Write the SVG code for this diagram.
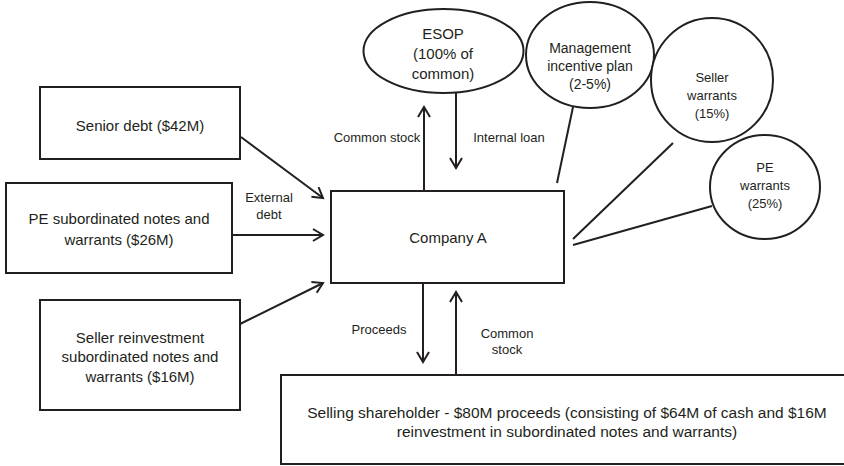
<svg xmlns="http://www.w3.org/2000/svg" width="844" height="466" viewBox="0 0 844 466">
<defs>
<marker id="arr" markerUnits="userSpaceOnUse" markerWidth="14" markerHeight="16" refX="11" refY="7" orient="auto">
<path d="M1,1 L11,7 L1,13" fill="none" stroke="#231f20" stroke-width="2"/>
</marker>
<style>
.box{fill:#fff;stroke:#231f20;stroke-width:2}
.ln{fill:none;stroke:#231f20;stroke-width:2}
text{font-family:"Liberation Sans",Arial,sans-serif;fill:#231f20;text-anchor:middle;dominant-baseline:central}
.t15{font-size:15px}
.t14{font-size:14px}
.t13{font-size:13px}
.t155{font-size:15.5px}
</style>
</defs>
<rect width="844" height="466" fill="#fff"/>
<g id="connectors">
<line class="ln" x1="241" y1="137" x2="323" y2="198" marker-end="url(#arr)"/>
<line class="ln" x1="232" y1="235" x2="323" y2="235" marker-end="url(#arr)"/>
<line class="ln" x1="240" y1="324" x2="323" y2="283" marker-end="url(#arr)"/>
<line class="ln" x1="424" y1="191" x2="424" y2="107" marker-end="url(#arr)"/>
<line class="ln" x1="456" y1="93" x2="456" y2="168" marker-end="url(#arr)"/>
<line class="ln" x1="423" y1="283" x2="423" y2="362" marker-end="url(#arr)"/>
<line class="ln" x1="456" y1="375" x2="456" y2="292" marker-end="url(#arr)"/>
<line class="ln" x1="573" y1="107" x2="557" y2="183"/>
<line class="ln" x1="673" y1="143" x2="573" y2="239"/>
<line class="ln" x1="712" y1="206" x2="573" y2="245"/>
<text class="t13" x="269" y="197">External</text>
<text class="t13" x="269" y="214">debt</text>
<text class="t13" x="377" y="137">Common stock</text>
<text class="t13" x="509" y="137">Internal loan</text>
<text class="t13" x="379" y="329">Proceeds</text>
<text class="t13" x="507" y="333">Common</text>
<text class="t13" x="507" y="349">stock</text>
</g>
<g id="senior">
<rect class="box" x="40" y="87" width="200" height="72"/>
<text class="t15" x="140" y="125">Senior debt ($42M)</text>
</g>
<g id="pe-notes">
<rect class="box" x="6" y="183" width="226" height="90"/>
<text class="t15" x="119" y="218">PE subordinated notes and</text>
<text class="t15" x="119" y="239">warrants ($26M)</text>
</g>
<g id="seller-notes">
<rect class="box" x="40" y="300" width="200" height="110"/>
<text class="t15" x="140" y="337">Seller reinvestment</text>
<text class="t15" x="140" y="356">subordinated notes and</text>
<text class="t15" x="140" y="376">warrants ($16M)</text>
</g>
<g id="company">
<rect class="box" x="331" y="191" width="233" height="92"/>
<text class="t15" x="448" y="237">Company A</text>
</g>
<g id="esop">
<ellipse class="box" cx="443.5" cy="51" rx="80" ry="42"/>
<text class="t15" x="443" y="33">ESOP</text>
<text class="t15" x="443" y="53">(100% of</text>
<text class="t15" x="443" y="73">common)</text>
</g>
<g id="mip">
<ellipse class="box" cx="590" cy="55" rx="64" ry="53"/>
<text class="t14" x="590" y="48">Management</text>
<text class="t14" x="590" y="66">incentive plan</text>
<text class="t14" x="590" y="84">(2-5%)</text>
</g>
<g id="seller-warrants">
<ellipse class="box" cx="712" cy="80" rx="61" ry="62"/>
<text class="t13" x="712" y="77">Seller</text>
<text class="t13" x="712" y="95">warrants</text>
<text class="t13" x="712" y="113">(15%)</text>
</g>
<g id="pe-warrants">
<ellipse class="box" cx="765" cy="187" rx="55" ry="52"/>
<text class="t13" x="765" y="167">PE</text>
<text class="t13" x="765" y="185">warrants</text>
<text class="t13" x="765" y="203">(25%)</text>
</g>
<g id="selling">
<rect class="box" x="281" y="375" width="570" height="89"/>
<text class="t155" x="567" y="412">Selling shareholder - $80M proceeds (consisting of $64M of cash and $16M</text>
<text class="t155" x="567" y="431">reinvestment in subordinated notes and warrants)</text>
</g>
</svg>
